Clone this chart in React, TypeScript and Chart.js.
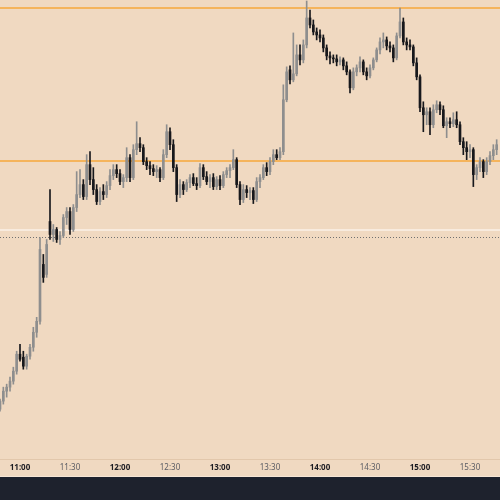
import React, { useEffect, useRef } from "react";
import { Chart, registerables } from "chart.js";
Chart.register(...registerables);

// 2-minute candles starting at 10:48
const START_MINUTE = 10 * 60 + 48;
const STEP_MINUTES = 2;

const opens = [
  209.0, 209.8, 210.8, 211.2, 211.8, 212.8, 214.5, 214.2, 213.3, 214.3,
  215.2, 216.7, 217.8, 223.5, 222.5, 227.8, 226.5, 227.0, 226.0, 226.4,
  228.2, 228.8, 227.0, 229.2, 230.5, 231.5, 230.3, 233.5, 232.0, 231.0,
  229.8, 230.8, 230.5, 231.4, 232.4, 233.0, 232.6, 231.8, 232.2, 234.2,
  232.2, 235.0, 235.6, 235.2, 233.8, 233.4, 233.1, 232.8, 233.0, 232.2,
  234.5, 236.8, 235.5, 233.2, 230.5, 231.5, 231.0, 231.7, 232.2, 231.6,
  231.4, 233.2, 232.3, 231.8, 232.2, 231.3, 232.0, 231.4, 232.5, 232.9,
  233.2, 234.0, 231.5, 230.0, 231.0, 230.7, 230.9, 230.0, 231.8, 232.2,
  233.2, 232.8, 233.8, 234.5, 234.2, 234.8, 240.0, 243.0, 242.0, 242.6,
  244.5, 244.0, 245.5, 248.2, 247.5, 246.8, 246.5, 246.2, 245.2, 244.4,
  244.2, 244.1, 243.8, 244.0, 243.4, 242.8, 241.2, 242.8, 243.2, 243.8,
  242.8, 242.4, 243.2, 244.0, 245.0, 245.8, 246.0, 245.4, 245.2, 244.2,
  246.4, 247.8, 245.8, 245.5, 245.3, 243.7, 242.3, 239.2, 238.5, 238.8,
  237.5, 239.0, 239.5, 239.0, 237.4, 237.8, 237.6, 238.0, 237.5, 235.8,
  235.2, 234.8, 235.0, 232.5, 233.2, 233.8, 232.8, 233.8, 234.4, 235.0,
];

const highs = [
  210.0, 211.2, 211.5, 212.2, 213.2, 214.8, 215.5, 214.8, 214.5, 215.5,
  217.2, 218.2, 226.2, 224.5, 226.0, 231.0, 227.5, 227.2, 226.8, 228.5,
  229.2, 229.2, 229.5, 232.8, 233.0, 232.0, 234.5, 234.8, 233.2, 231.5,
  231.2, 231.5, 231.8, 233.0, 233.5, 233.5, 233.0, 232.5, 235.2, 234.5,
  235.5, 237.8, 236.2, 235.5, 234.2, 233.8, 233.5, 233.4, 233.2, 235.0,
  237.5, 237.2, 236.0, 233.5, 232.0, 231.8, 232.0, 232.5, 232.6, 232.2,
  233.6, 233.5, 232.8, 232.5, 232.6, 232.3, 232.4, 232.8, 233.2, 233.5,
  235.0, 234.2, 231.8, 231.5, 231.4, 231.2, 231.2, 232.2, 232.5, 233.5,
  233.7, 234.2, 235.0, 235.0, 235.2, 241.5, 243.3, 243.4, 246.7, 245.5,
  245.5, 246.0, 249.9, 249.0, 248.0, 247.2, 247.0, 246.5, 245.5, 244.8,
  244.5, 244.5, 244.3, 244.2, 243.8, 243.0, 243.2, 243.5, 244.3, 244.0,
  243.2, 243.5, 244.2, 245.2, 246.2, 246.7, 246.3, 245.8, 245.5, 246.7,
  249.2, 248.2, 246.2, 246.0, 245.5, 244.2, 242.5, 239.8, 239.2, 239.2,
  239.5, 239.9, 239.8, 239.4, 238.2, 238.2, 238.7, 238.8, 237.8, 236.2,
  235.8, 235.5, 235.2, 233.5, 234.2, 234.0, 234.2, 234.8, 235.5, 236.0,
];

const lows = [
  208.8, 209.5, 210.2, 210.8, 211.5, 212.5, 213.8, 213.0, 213.0, 214.0,
  214.8, 216.2, 217.5, 221.7, 222.2, 226.0, 225.8, 225.7, 225.5, 226.2,
  227.5, 226.5, 226.8, 228.8, 230.2, 230.0, 230.0, 231.5, 230.5, 229.5,
  229.5, 230.0, 230.2, 231.0, 232.0, 232.2, 231.5, 231.2, 231.8, 231.8,
  232.0, 234.5, 234.8, 233.5, 233.0, 232.5, 232.4, 232.2, 231.8, 232.0,
  234.2, 235.0, 232.8, 229.8, 230.2, 230.5, 230.8, 231.2, 231.4, 231.0,
  231.2, 232.0, 231.5, 231.2, 231.0, 231.0, 231.0, 231.2, 232.2, 232.2,
  233.0, 231.2, 229.5, 229.7, 230.2, 230.0, 229.6, 229.8, 231.2, 232.0,
  232.4, 232.5, 233.5, 234.0, 234.0, 234.5, 239.8, 241.6, 241.8, 242.4,
  243.5, 243.7, 245.2, 247.2, 246.5, 246.0, 245.8, 244.8, 244.0, 243.6,
  243.7, 243.4, 243.5, 243.0, 242.5, 240.7, 241.0, 242.4, 242.8, 242.5,
  242.0, 242.2, 243.0, 243.8, 244.6, 245.2, 245.0, 244.8, 243.8, 244.0,
  246.2, 245.5, 245.0, 245.0, 243.4, 242.0, 238.8, 236.8, 237.5, 236.5,
  237.2, 238.7, 238.5, 237.2, 236.2, 237.2, 237.3, 237.2, 235.5, 234.5,
  234.0, 234.2, 231.3, 232.0, 232.8, 232.2, 232.5, 233.5, 234.0, 234.5,
];

const closes = [
  209.8, 210.8, 211.2, 211.8, 212.8, 214.5, 214.0, 213.3, 214.3, 215.2,
  216.7, 217.8, 225.0, 222.2, 225.5, 226.5, 227.0, 226.0, 226.4, 228.2,
  228.8, 227.0, 229.2, 230.5, 231.5, 230.3, 233.5, 232.0, 231.0, 229.8,
  230.8, 230.5, 231.4, 232.4, 233.0, 232.6, 231.8, 232.2, 234.2, 232.2,
  235.0, 235.6, 235.2, 233.8, 233.4, 233.1, 232.8, 233.0, 232.2, 234.5,
  236.8, 235.5, 233.2, 230.5, 231.5, 231.0, 231.7, 232.2, 231.6, 231.4,
  233.2, 232.3, 231.8, 232.2, 231.3, 232.0, 231.4, 232.5, 232.9, 233.2,
  234.0, 231.5, 230.0, 231.0, 230.7, 230.9, 230.0, 231.8, 232.2, 233.2,
  232.8, 233.8, 234.5, 234.2, 234.8, 240.0, 242.8, 242.0, 242.6, 244.5,
  244.0, 245.5, 248.2, 247.5, 246.8, 246.5, 246.2, 245.2, 244.4, 244.2,
  244.1, 243.8, 244.0, 243.4, 242.8, 241.2, 242.8, 243.2, 243.8, 242.8,
  242.4, 243.2, 244.0, 245.0, 245.8, 246.0, 245.4, 245.2, 244.2, 246.4,
  247.8, 245.8, 245.5, 245.3, 243.7, 242.3, 239.2, 238.5, 238.8, 237.5,
  239.0, 239.5, 239.0, 237.4, 237.8, 237.6, 238.0, 237.5, 235.8, 235.2,
  234.8, 235.0, 232.5, 233.2, 233.8, 232.8, 233.8, 234.4, 235.0, 235.5,
];

// horizontal price levels
const orangeLevels = [249.2, 233.9];
const whiteLevels = [227.0];
const dottedLevels = [226.2];

const times = opens.map((_, i) => {
  const m = START_MINUTE + i * STEP_MINUTES;
  return `${Math.floor(m / 60)}:${String(m % 60).padStart(2, "0")}`;
});

const BG = "#f0d9c1";
const UP = "#8e8e8e";
const DOWN = "#17181c";

const levelsPlugin = {
  id: "levels",
  beforeDatasetsDraw(chart: any) {
    const { ctx, chartArea, scales } = chart;
    const y = scales.y;
    ctx.save();
    const line = (v: number, color: string, width: number, dash: number[]) => {
      const py = Math.round(y.getPixelForValue(v)) + (width % 2 ? 0.5 : 0);
      ctx.beginPath();
      ctx.setLineDash(dash);
      ctx.strokeStyle = color;
      ctx.lineWidth = width;
      ctx.moveTo(chartArea.left, py);
      ctx.lineTo(chartArea.right, py);
      ctx.stroke();
    };
    whiteLevels.forEach((v) => line(v, "#f8ebde", 2, []));
    dottedLevels.forEach((v) => line(v, "#707070", 1, [1, 2]));
    orangeLevels.forEach((v) => line(v, "#f5b45c", 2, []));
    ctx.restore();
  },
};

export default function App() {
  const ref = useRef<HTMLCanvasElement>(null);
  useEffect(() => {
    const canvas = ref.current;
    if (!canvas) return;
    const idx = opens.map((_, i) => i);
    const colors = idx.map((i) => (closes[i] >= opens[i] ? UP : DOWN));
    const tickIdx = idx.filter((i) => /:(00|30)$/.test(times[i]));
    const isHour = (c: any) => !!(c.tick && times[c.tick.value]?.endsWith(":00"));
    const chart = new Chart(canvas, {
      type: "bar",
      data: {
        datasets: [
          {
            data: idx.map((i) => ({ x: i, y: [lows[i], highs[i]] })) as any,
            backgroundColor: colors,
            barThickness: 1,
            grouped: false,
            order: 2,
          } as any,
          {
            data: idx.map((i) => ({ x: i, y: [opens[i], closes[i]] })) as any,
            backgroundColor: colors,
            barThickness: 2,
            minBarLength: 1,
            grouped: false,
            order: 1,
          } as any,
        ],
      },
      options: {
        responsive: false,
        animation: false,
        layout: { padding: 0 },
        plugins: { legend: { display: false }, tooltip: { enabled: false } },
        scales: {
          y: { display: false, min: 204, max: 250 },
          x: {
            type: "linear",
            min: 0,
            max: 150,
            offset: false,
            grid: { display: false, drawTicks: false },
            border: { display: true, color: "#e2c7ab" },
            afterBuildTicks: (scale: any) => {
              scale.ticks = tickIdx.map((v) => ({ value: v }));
            },
            afterFit: (scale: any) => {
              scale.height = 17;
            },
            ticks: {
              autoSkip: false,
              maxRotation: 0,
              padding: 4,
              callback: (v: any) => times[v] ?? "",
              color: (c: any) => (isHour(c) ? "#1b1c22" : "#5a5c64"),
              font: (c: any) => ({
                family: "'Noto Sans', sans-serif",
                size: 8,
                weight: isHour(c) ? "bold" : "normal",
              }),
            },
          } as any,
        },
      },
      plugins: [levelsPlugin],
    });
    return () => chart.destroy();
  }, []);

  return (
    <div
      style={{
        position: "fixed",
        left: 0,
        top: 0,
        width: 500,
        height: 500,
        background: BG,
        overflow: "hidden",
      }}
    >
      <canvas ref={ref} width={500} height={476} style={{ display: "block" }} />
      <div style={{ height: 1, background: "#f6e6d5" }} />
      <div style={{ height: 23, background: "#1e222d" }} />
    </div>
  );
}
